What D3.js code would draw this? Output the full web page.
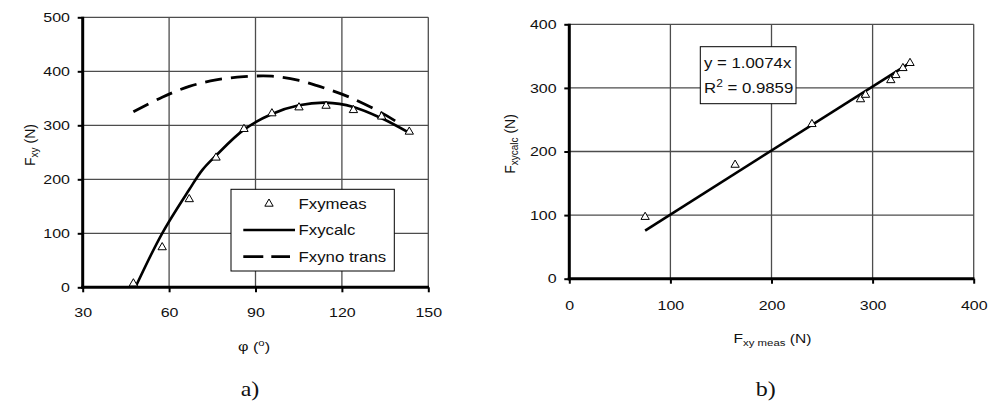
<!DOCTYPE html>
<html>
<head>
<meta charset="utf-8">
<script src="https://cdn.jsdelivr.net/npm/d3@7"></script>
<style>
  html, body { margin: 0; padding: 0; background: #fff; }
  svg { display: block; }
</style>
</head>
<body>
<svg id="chart" width="997" height="402"></svg>
<script>
// ---- data: (a) force vs. angle ----
const phiTicks = [30, 60, 90, 120, 150];
const fxyTicks = [0, 100, 200, 300, 400, 500];
const phiMeas = [47.6, 57.6, 67.0, 76.3, 86.0, 95.7, 105.1, 114.5, 124.0, 133.8, 143.4];
const fxyMeas = [7, 74, 163, 240, 293, 322, 333, 336, 328, 316, 288];
const phiCalc = [48.3, 57.6, 67.0, 71.5, 76.3, 86.0, 95.7, 105.1, 114.5, 124.0, 133.8, 143.4];
const fxyCalc = [0, 100, 181, 217, 244, 292, 321, 337, 342, 334, 313, 286];
const phiNoTrans = [47.6, 57.6, 67.0, 76.3, 86.0, 95.7, 105.1, 114.5, 124.0, 133.8, 139.5];
const fxyNoTrans = [325, 352, 372, 384, 390, 391, 383, 368, 349, 323, 305];
const legendNames = ["Fxymeas", "Fxycalc", "Fxyno trans"];

// ---- data: (b) calculated vs. measured ----
const measTicks = [0, 100, 200, 300, 400];
const calcTicks = [0, 100, 200, 300, 400];
const measX = [75, 164, 240, 288, 293, 318, 323, 330, 337];
const calcY = [97, 179, 243, 282, 289, 312, 320, 331, 339];
const slope = 1.0074;
const rSquared = 0.9859;

const FONT = "'Liberation Sans', Arial, Helvetica, sans-serif";
const SERIF = "'Liberation Serif', 'Times New Roman', serif";
const SX = 1.2;          // horizontal text stretch
const GRID = "#4d4d4d";
const INK = "#111";

const svg = d3.select("#chart");

function stretchedText(parent, x, y, anchor, size, family) {
  return parent.append("text")
    .attr("transform", `translate(${x},${y}) scale(${SX},1)`)
    .attr("text-anchor", anchor)
    .attr("font-size", size)
    .attr("font-family", family || FONT)
    .attr("fill", INK);
}

function frame(g, x, y, xTicks, yTicks, xPad) {
  const [x0, x1] = x.range();
  const [y0, y1] = y.range();
  // grid
  g.append("g").selectAll("line.v").data(xTicks.slice(1)).join("line")
    .attr("x1", d => x(d)).attr("x2", d => x(d))
    .attr("y1", y1).attr("y2", y0)
    .attr("stroke", GRID).attr("stroke-width", 1.3);
  g.append("g").selectAll("line.h").data(yTicks.slice(1)).join("line")
    .attr("x1", x0).attr("x2", x1)
    .attr("y1", d => y(d)).attr("y2", d => y(d))
    .attr("stroke", GRID).attr("stroke-width", 1.3);

  // axes
  const ay = g.append("g").attr("transform", `translate(${x0},0)`)
    .call(d3.axisLeft(y).tickValues(yTicks).tickSize(5).tickPadding(5.6).tickFormat(d3.format("d")));
  const ax = g.append("g").attr("transform", `translate(0,${y0})`)
    .call(d3.axisBottom(x).tickValues(xTicks).tickSize(5).tickPadding(xPad).tickFormat(d3.format("d")));
  [ay, ax].forEach(a => {
    a.select(".domain").remove();
    a.attr("font-size", 13.3).attr("font-family", FONT);
    a.selectAll(".tick line").attr("stroke", "#000").attr("stroke-width", 2);
    a.selectAll(".tick text").attr("fill", INK).attr("transform", `scale(${SX},1)`);
  });
  // thick axis lines
  g.append("line").attr("x1", x0).attr("x2", x0).attr("y1", y1 - 0.5).attr("y2", y0 + 1.5)
    .attr("stroke", "#000").attr("stroke-width", 3);
  g.append("line").attr("x1", x0 - 1.5).attr("x2", x1 + 0.7).attr("y1", y0).attr("y2", y0)
    .attr("stroke", "#000").attr("stroke-width", 3);
}

const tri = d3.symbol().type(d3.symbolTriangle).size(30);

// ================= (a) =================
{
  const g = svg.append("g");
  const x = d3.scaleLinear().domain([30, 150]).range([82.7, 428.3]);
  const y = d3.scaleLinear().domain([0, 500]).range([287.3, 17.3]);
  frame(g, x, y, phiTicks, fxyTicks, 15.5);

  const line = d3.line().x(d => x(d[0])).y(d => y(d[1])).curve(d3.curveCatmullRom.alpha(0.5));

  g.append("path").datum(d3.zip(phiNoTrans, fxyNoTrans)).attr("d", line)
    .attr("fill", "none").attr("stroke", "#000").attr("stroke-width", 2.8)
    .attr("stroke-dasharray", "17,9");
  g.append("path").datum(d3.zip(phiCalc, fxyCalc)).attr("d", line)
    .attr("fill", "none").attr("stroke", "#000").attr("stroke-width", 2.6);
  g.append("g").selectAll("path").data(d3.zip(phiMeas, fxyMeas)).join("path")
    .attr("d", tri).attr("transform", d => `translate(${x(d[0])},${y(d[1])})`)
    .attr("fill", "#fff").attr("stroke", "#000").attr("stroke-width", 1);

  // legend
  const lg = g.append("g");
  lg.append("rect").attr("x", 231).attr("y", 189.3).attr("width", 163.3).attr("height", 81.7)
    .attr("fill", "#fff").attr("stroke", "#000").attr("stroke-width", 1);
  lg.append("path").attr("d", tri).attr("transform", "translate(269,203.8)")
    .attr("fill", "#fff").attr("stroke", "#000").attr("stroke-width", 1);
  lg.append("line").attr("x1", 243.3).attr("x2", 295).attr("y1", 230).attr("y2", 230)
    .attr("stroke", "#000").attr("stroke-width", 2.6);
  lg.append("line").attr("x1", 243.3).attr("x2", 290).attr("y1", 256.7).attr("y2", 256.7)
    .attr("stroke", "#000").attr("stroke-width", 2.8).attr("stroke-dasharray", "20,8");
  legendNames.forEach((n, i) => {
    stretchedText(lg, 298.5, 208.5 + i * 26.6, "start", 14).text(n);
  });

  // axis titles
  const yt = g.append("text")
    .attr("transform", "translate(35,145) rotate(-90)")
    .attr("text-anchor", "middle").attr("font-size", 14).attr("font-family", FONT).attr("fill", INK);
  yt.append("tspan").text("F");
  yt.append("tspan").attr("font-size", 10).attr("dy", 3).text("xy");
  yt.append("tspan").attr("dy", -3).text("\u00a0(N)");

  const xt = stretchedText(g, 254, 351, "middle", 13.5);
  xt.append("tspan").text("\u03c6 (");
  xt.append("tspan").attr("font-size", 9.5).attr("dy", -5).text("o");
  xt.append("tspan").attr("dy", 5).text(")");

  stretchedText(g, 250, 396, "middle", 20, SERIF).text("a)");
}

// ================= (b) =================
{
  const g = svg.append("g");
  const x = d3.scaleLinear().domain([0, 400]).range([569.3, 973.7]);
  const y = d3.scaleLinear().domain([0, 400]).range([278.7, 24.3]);
  frame(g, x, y, measTicks, calcTicks, 16.4);

  const [lo, hi] = d3.extent(measX);
  g.append("line")
    .attr("x1", x(lo)).attr("y1", y(slope * lo))
    .attr("x2", x(hi)).attr("y2", y(slope * hi))
    .attr("stroke", "#000").attr("stroke-width", 2.6);

  g.append("g").selectAll("path").data(d3.zip(measX, calcY)).join("path")
    .attr("d", tri).attr("transform", d => `translate(${x(d[0])},${y(d[1])})`)
    .attr("fill", "#fff").attr("stroke", "#000").attr("stroke-width", 1);

  // equation box
  g.append("rect").attr("x", 700.3).attr("y", 46.7).attr("width", 95.7).attr("height", 57)
    .attr("fill", "#fff").attr("stroke", "#000").attr("stroke-width", 1);
  stretchedText(g, 704, 68.3, "start", 14).text(`y = ${slope.toFixed(4)}x`);
  const r = stretchedText(g, 704, 93.3, "start", 14);
  r.append("tspan").text("R");
  r.append("tspan").attr("font-size", 10).attr("dy", -6).text("2");
  r.append("tspan").attr("dy", 6).text(` = ${rSquared.toFixed(4)}`);

  // axis titles
  const yt = g.append("text")
    .attr("transform", "translate(515,144) rotate(-90)")
    .attr("text-anchor", "middle").attr("font-size", 14).attr("font-family", FONT).attr("fill", INK);
  yt.append("tspan").text("F");
  yt.append("tspan").attr("font-size", 10).attr("dy", 3).text("xycalc");
  yt.append("tspan").attr("dy", -3).text("\u00a0(N)");

  const xt = stretchedText(g, 772.5, 343.3, "middle", 13);
  xt.append("tspan").text("F");
  xt.append("tspan").attr("font-size", 9.5).attr("dy", 3).text("xy meas");
  xt.append("tspan").attr("dy", -3).text(" (N)");

  stretchedText(g, 765.7, 396, "middle", 20, SERIF).text("b)");
}
</script>
</body>
</html>
